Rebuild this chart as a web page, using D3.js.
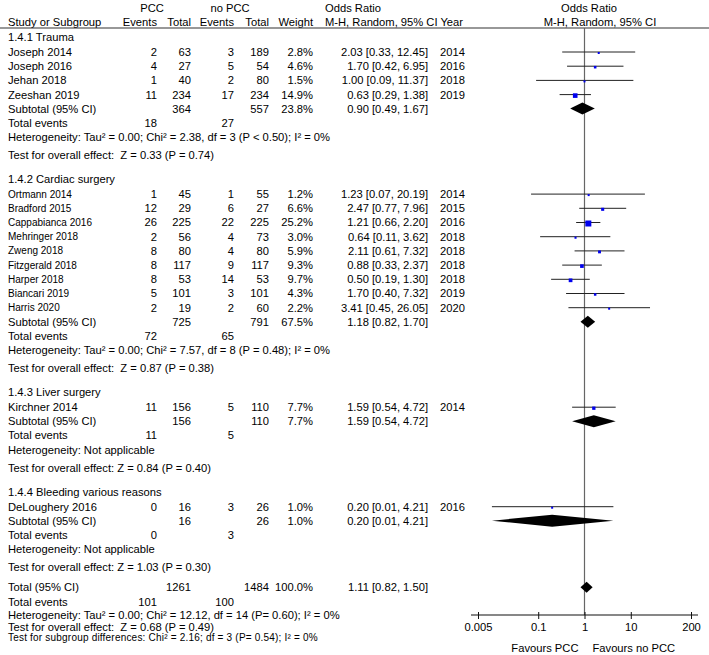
<!DOCTYPE html>
<html>
<head>
<meta charset="utf-8">
<script src="https://cdn.jsdelivr.net/npm/d3@7"></script>
<style>
  body { margin: 0; background: #fff; }
  svg text { font-family: "Liberation Sans", Arial, Helvetica, sans-serif; fill: #000; white-space: pre; }
</style>
</head>
<body>
<svg id="chart"></svg>
<script>
// study level data
const groupLabels = ["1.4.1 Trauma", "1.4.2 Cardiac surgery", "1.4.3 Liver surgery", "1.4.4 Bleeding various reasons"];
const studyGroup = [0, 0, 0, 0, 1, 1, 1, 1, 1, 1, 1, 1, 1, 2, 3];
const studyNames = ["Joseph 2014", "Joseph 2016", "Jehan 2018", "Zeeshan 2019",
  "Ortmann 2014", "Bradford 2015", "Cappabianca 2016", "Mehringer 2018", "Zweng 2018",
  "Fitzgerald 2018", "Harper 2018", "Biancari 2019", "Harris 2020",
  "Kirchner 2014", "DeLoughery 2016"];
const pccEvents = [2, 4, 1, 11, 1, 12, 26, 2, 8, 8, 8, 5, 2, 11, 0];
const pccTotal = [63, 27, 40, 234, 45, 29, 225, 56, 80, 117, 53, 101, 19, 156, 16];
const ctrlEvents = [3, 5, 2, 17, 1, 6, 22, 4, 4, 9, 14, 3, 2, 5, 3];
const ctrlTotal = [189, 54, 80, 234, 55, 27, 225, 73, 80, 117, 53, 101, 60, 110, 26];
const weights = [2.8, 4.6, 1.5, 14.9, 1.2, 6.6, 25.2, 3.0, 5.9, 9.3, 9.7, 4.3, 2.2, 7.7, 1.0];
const orEst = [2.03, 1.70, 1.00, 0.63, 1.23, 2.47, 1.21, 0.64, 2.11, 0.88, 0.50, 1.70, 3.41, 1.59, 0.20];
const orLow = [0.33, 0.42, 0.09, 0.29, 0.07, 0.77, 0.66, 0.11, 0.61, 0.33, 0.19, 0.40, 0.45, 0.54, 0.01];
const orHigh = [12.45, 6.95, 11.37, 1.38, 20.19, 7.96, 2.20, 3.62, 7.32, 2.37, 1.30, 7.32, 26.05, 4.72, 4.21];
const years = [2014, 2016, 2018, 2019, 2014, 2015, 2016, 2018, 2018, 2018, 2018, 2019, 2020, 2014, 2016];

// subgroup data
const subPccTotal = [364, 725, 156, 16];
const subCtrlTotal = [557, 791, 110, 26];
const subWeights = [23.8, 67.5, 7.7, 1.0];
const subOr = [0.90, 1.18, 1.59, 0.20];
const subLow = [0.49, 0.82, 0.54, 0.01];
const subHigh = [1.67, 1.70, 4.72, 4.21];
const subPccEvents = [18, 72, 11, 0];
const subCtrlEvents = [27, 65, 5, 3];
const subHet = [
  "Heterogeneity: Tau\u00b2 = 0.00; Chi\u00b2 = 2.38, df = 3 (P < 0.50); I\u00b2 = 0%",
  "Heterogeneity: Tau\u00b2 = 0.00; Chi\u00b2 = 7.57, df = 8 (P = 0.48); I\u00b2 = 0%",
  "Heterogeneity: Not applicable",
  "Heterogeneity: Not applicable"];
const subTest = [
  "Test for overall effect:  Z = 0.33 (P = 0.74)",
  "Test for overall effect:  Z = 0.87 (P = 0.38)",
  "Test for overall effect: Z = 0.84 (P = 0.40)",
  "Test for overall effect: Z = 1.03 (P = 0.30)"];

// overall
const totPcc = 1261, totCtrl = 1484, totWeight = 100.0;
const totOr = 1.11, totLow = 0.82, totHigh = 1.50;
const totPccEvents = 101, totCtrlEvents = 100;
const totHet = "Heterogeneity: Tau\u00b2 = 0.00; Chi\u00b2 = 12.12, df = 14 (P= 0.60); I\u00b2 = 0%";
const totTest = "Test for overall effect:  Z = 0.68 (P = 0.49)";
const subgroupTest = "Test for subgroup differences: Chi\u00b2 = 2.16; df = 3 (P= 0.54); I\u00b2 = 0%";

const axisTicks = [0.005, 0.1, 1, 10, 200];

const width = 709;
const height = 655;
const fs = 11.2;

const svg = d3.select("#chart").attr("width", width).attr("height", height);

const xScale = d3.scaleLog().domain([0.005, 200]).range([478, 691]);
const sizeScale = d3.scaleSqrt().domain([0, 25.2]).range([0, 6]);

// column anchors
const col = { name: 8, pe: 157, pt: 191, ce: 234, ct: 269, w: 313, or: 428, year: 440, orHead: 325 };

// build row list, y accumulates by gap between row kinds
const gaps = {
  group: 24, groupFirst: 15, study: 14.2, firstStudy: 15, subtotal: 14, events: 14,
  het: 14.5, test: 18, total: 20, totEvents: 15, totHet: 13, totTest: 12, subTest: 10
};
const rows = [];
let y = 22;
groupLabels.forEach((g, gi) => {
  y += gi === 0 ? gaps.groupFirst : gaps.group;
  rows.push({ kind: "group", y, g: gi });
  let first = true;
  studyNames.forEach((n, i) => {
    if (studyGroup[i] !== gi) return;
    y += first ? gaps.firstStudy : gaps.study;
    first = false;
    rows.push({ kind: "study", y, i });
  });
  y += gaps.subtotal; rows.push({ kind: "subtotal", y, g: gi });
  y += gaps.events; rows.push({ kind: "events", y, g: gi });
  y += gaps.het; rows.push({ kind: "het", y, g: gi });
  y += gaps.test; rows.push({ kind: "test", y, g: gi });
});
y += gaps.total; rows.push({ kind: "total", y });
y += gaps.totEvents; rows.push({ kind: "totEvents", y });
y += gaps.totHet; rows.push({ kind: "totHet", y });
y += gaps.totTest; rows.push({ kind: "totTest", y });
y += gaps.subTest; rows.push({ kind: "subTest", y });

const axisY = 615;
const headLineY = 28;

const txt = (x, yy, s, anchor, size) => svg.append("text")
  .attr("x", x).attr("y", yy).attr("dy", "0.35em")
  .attr("text-anchor", anchor || "start")
  .style("font-size", (size || fs) + "px")
  .text(s);

const orText = (o, l, h) => `${o.toFixed(2)} [${l.toFixed(2)}, ${h.toFixed(2)}]`;

// headers
txt(152, 8, "PCC", "middle");
txt(230, 8, "no PCC", "middle");
txt(col.orHead, 8, "Odds Ratio");
txt(589, 8, "Odds Ratio", "middle");
txt(col.name, 22, "Study or Subgroup");
txt(col.pe, 22, "Events", "end");
txt(col.pt, 22, "Total", "end");
txt(col.ce, 22, "Events", "end");
txt(col.ct, 22, "Total", "end");
txt(col.w, 22, "Weight", "end");
txt(col.orHead, 22, "M-H, Random, 95% CI Year");
txt(600, 22, "M-H, Random, 95% CI", "middle");

svg.append("line")
  .attr("x1", 0).attr("x2", width)
  .attr("y1", headLineY).attr("y2", headLineY)
  .attr("stroke", "#333").attr("stroke-width", 1.2);

// line of no effect
svg.append("line")
  .attr("x1", xScale(1)).attr("x2", xScale(1))
  .attr("y1", headLineY).attr("y2", axisY)
  .attr("stroke", "#666").attr("stroke-width", 1.2);

const diamond = (o, l, h, yy, hh) => {
  const pts = [[xScale(l), yy], [xScale(o), yy - hh / 2], [xScale(h), yy], [xScale(o), yy + hh / 2]];
  svg.append("polygon").attr("points", pts.map(p => p.join(",")).join(" ")).attr("fill", "#000");
};

rows.forEach(r => {
  if (r.kind === "group") {
    txt(col.name, r.y, groupLabels[r.g]);
  } else if (r.kind === "study") {
    const i = r.i;
    txt(col.name, r.y, studyNames[i], "start", studyGroup[i] === 1 ? 10 : fs);
    txt(col.pe, r.y, pccEvents[i], "end");
    txt(col.pt, r.y, pccTotal[i], "end");
    txt(col.ce, r.y, ctrlEvents[i], "end");
    txt(col.ct, r.y, ctrlTotal[i], "end");
    txt(col.w, r.y, weights[i].toFixed(1) + "%", "end");
    txt(col.or, r.y, orText(orEst[i], orLow[i], orHigh[i]), "end");
    txt(col.year, r.y, years[i]);
    svg.append("line")
      .attr("x1", xScale(orLow[i])).attr("x2", xScale(orHigh[i]))
      .attr("y1", r.y).attr("y2", r.y)
      .attr("stroke", "#222").attr("stroke-width", 1);
    const s = Math.max(2, sizeScale(weights[i]));
    svg.append("rect")
      .attr("x", xScale(orEst[i]) - s / 2).attr("y", r.y - s / 2 + 1)
      .attr("width", s).attr("height", s)
      .attr("fill", "#0000ee");
  } else if (r.kind === "subtotal") {
    const g = r.g;
    txt(col.name, r.y, "Subtotal (95% CI)");
    txt(col.pt, r.y, subPccTotal[g], "end");
    txt(col.ct, r.y, subCtrlTotal[g], "end");
    txt(col.w, r.y, subWeights[g].toFixed(1) + "%", "end");
    txt(col.or, r.y, orText(subOr[g], subLow[g], subHigh[g]), "end");
    diamond(subOr[g], subLow[g], subHigh[g], r.y, 12);
  } else if (r.kind === "events") {
    txt(col.name, r.y, "Total events");
    txt(col.pe, r.y, subPccEvents[r.g], "end");
    txt(col.ce, r.y, subCtrlEvents[r.g], "end");
  } else if (r.kind === "het") {
    txt(col.name, r.y, subHet[r.g]);
  } else if (r.kind === "test") {
    txt(col.name, r.y, subTest[r.g]);
  } else if (r.kind === "total") {
    txt(col.name, r.y, "Total (95% CI)");
    txt(col.pt, r.y, totPcc, "end");
    txt(col.ct, r.y, totCtrl, "end");
    txt(col.w, r.y, totWeight.toFixed(1) + "%", "end");
    txt(col.or, r.y, orText(totOr, totLow, totHigh), "end");
    diamond(totOr, totLow, totHigh, r.y, 11);
  } else if (r.kind === "totEvents") {
    txt(col.name, r.y, "Total events");
    txt(col.pe, r.y, totPccEvents, "end");
    txt(col.ce, r.y, totCtrlEvents, "end");
  } else if (r.kind === "totHet") {
    txt(col.name, r.y, totHet);
  } else if (r.kind === "totTest") {
    txt(col.name, r.y, totTest);
  } else if (r.kind === "subTest") {
    txt(col.name, r.y, subgroupTest, "start", 10)
      .style("letter-spacing", "0.2px");
  }
});

// axis
const xAxis = d3.axisBottom(xScale)
  .tickValues(axisTicks)
  .tickFormat(d => String(d))
  .tickSizeOuter(0);

const ag = svg.append("g")
  .attr("transform", "translate(0," + axisY + ")")
  .call(xAxis);
ag.select(".domain").remove();
ag.append("line")
  .attr("x1", xScale.range()[0] - 7).attr("x2", xScale.range()[1] + 7)
  .attr("stroke", "#111").attr("stroke-width", 1.2);
ag.selectAll(".tick line").attr("y1", -3).attr("y2", 4).attr("stroke", "#111");
ag.selectAll(".tick text")
  .attr("y", 8)
  .style("font-size", fs + "px")
  .style("font-family", "'Liberation Sans', Arial, sans-serif")
  .attr("fill", "#000");

txt(xScale(1) - 6, 648, "Favours PCC", "end");
txt(xScale(1) + 8, 648, "Favours no PCC", "start");
</script>
</body>
</html>
